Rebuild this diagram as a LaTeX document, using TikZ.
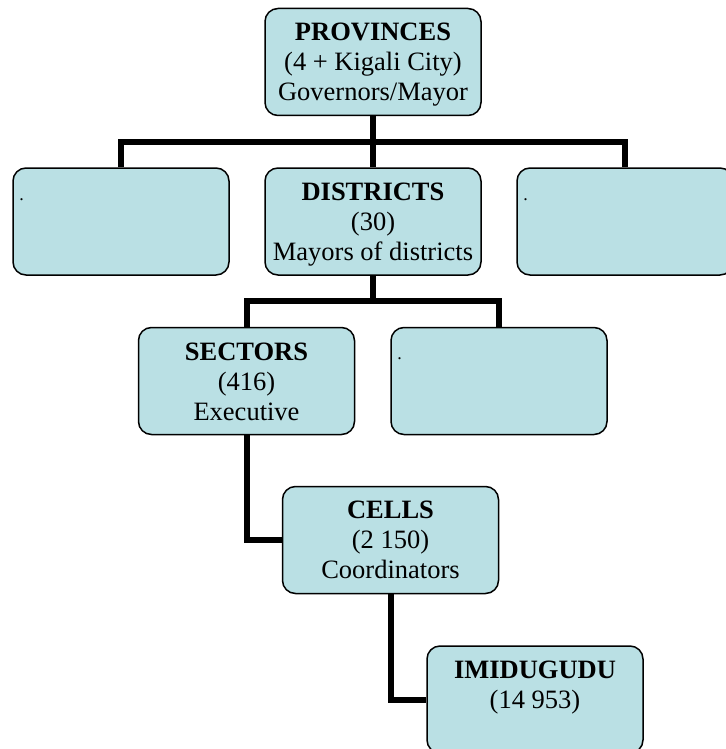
\documentclass[tikz,border=0pt]{standalone}
\usepackage{fontspec}
\setmainfont{Liberation Serif}
\usetikzlibrary{backgrounds}
\definecolor{boxfill}{RGB}{186,224,228}
\tikzset{
 box/.style={draw=black, line width=1.5pt, fill=boxfill, rounded corners=13pt, minimum width=216pt, minimum height=107pt, inner sep=0pt},
 conn/.style={line width=6pt, draw=black},
 lbl/.style={anchor=base, inner sep=0pt, font=\fontsize{26.5}{30}\selectfont},
 dotlbl/.style={anchor=base west, inner sep=0pt, font=\fontsize{18}{18}\selectfont}
}
\begin{document}
\begin{tikzpicture}[x=1pt,y=-1pt]
\useasboundingbox (0,0) rectangle (725,749);
% boxes
\node[box] (prov) at (373,62) {};
\node[box] (left) at (121,221.5) {};
\node[box] (dist) at (373,221.5) {};
\node[box] (right) at (625,221.5) {};
\node[box] (sect) at (246.5,381) {};
\node[box] (dot2) at (499,381) {};
\node[box] (cells) at (390.5,540) {};
\node[box] (imi) at (535,699.5) {};
% texts
\node[lbl] (provt) at (373,41) {\parbox[t]{214pt}{\centering\textbf{PROVINCES}\\(4 + Kigali City)\\Governors/Mayor}};
\node[lbl] (distt) at (373,200) {\parbox[t]{214pt}{\centering\textbf{DISTRICTS}\\(30)\\Mayors of districts}};
\node[lbl] (sectt) at (246.5,360) {\parbox[t]{214pt}{\centering\textbf{SECTORS}\\(416)\\Executive}};
\node[lbl] (cellst) at (390.5,518) {\parbox[t]{214pt}{\centering\textbf{CELLS}\\(2 150)\\Coordinators}};
\node[lbl] (imit) at (535,678) {\parbox[t]{214pt}{\centering\textbf{IMIDUGUDU}\\(14 953)}};
\node[dotlbl] (leftt) at ([xshift=7pt,yshift=-33pt]left.north west) {.};
\node[dotlbl] (rightt) at ([xshift=7pt,yshift=-33pt]right.north west) {.};
\node[dotlbl] (dot2t) at ([xshift=7pt,yshift=-33pt]dot2.north west) {.};
% connectors
\coordinate (b1) at (373,142);
\coordinate (b2) at (373,301);
\begin{scope}[on background layer]
\draw[conn] (prov.south) -- (b1);
\draw[conn] (left.north) |- (b1) -| (right.north);
\draw[conn] (b1) -- (dist.north);
\draw[conn] (dist.south) -- (b2);
\draw[conn] (sect.north) |- (b2) -| (dot2.north);
\draw[conn] (sect.south) |- (cells.west);
\draw[conn] (cells.south) |- (imi.west);
\end{scope}
\end{tikzpicture}
\end{document}
